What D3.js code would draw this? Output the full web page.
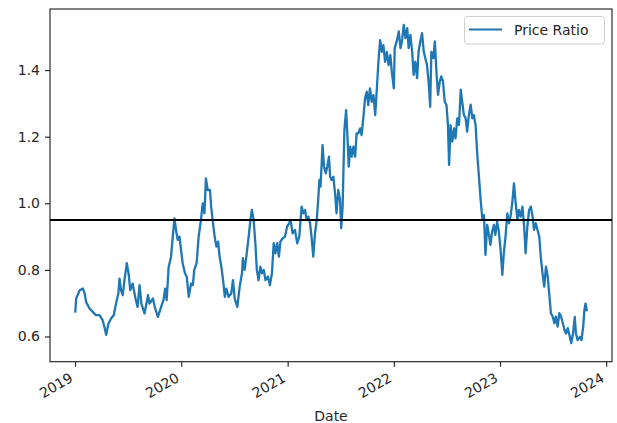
<!DOCTYPE html>
<html>
<head>
<meta charset="utf-8">
<script src="https://cdn.jsdelivr.net/npm/d3@7"></script>
<style>
  html, body { margin: 0; padding: 0; background: #fff; }
  svg { display: block; font-family: "DejaVu Sans", sans-serif; }
</style>
</head>
<body>
<svg id="chart" width="617" height="423"></svg>
<script>
// Observation dates of the price ratio series
const dates = [
  "2019-01-02","2019-01-05","2019-01-17","2019-01-28","2019-02-03","2019-02-08","2019-02-20","2019-03-03",
  "2019-03-14","2019-03-26","2019-04-06","2019-04-12","2019-04-18","2019-04-26","2019-05-05","2019-05-14",
  "2019-05-22","2019-05-30","2019-06-03","2019-06-08","2019-06-14","2019-06-20","2019-06-28","2019-07-04",
  "2019-07-10","2019-07-18","2019-07-28","2019-08-04","2019-08-11","2019-08-17","2019-08-28","2019-09-09",
  "2019-09-14","2019-09-26","2019-10-02","2019-10-13","2019-10-24","2019-11-01","2019-11-07","2019-11-12",
  "2019-11-19","2019-11-27","2019-12-03","2019-12-09","2019-12-15","2019-12-20","2019-12-26",
  "2020-01-02","2020-01-06","2020-01-14","2020-01-20","2020-01-27","2020-02-04","2020-02-10","2020-02-15",
  "2020-02-23","2020-03-01","2020-03-09","2020-03-15","2020-03-21","2020-03-26","2020-04-01","2020-04-09",
  "2020-04-13","2020-04-18","2020-04-25","2020-05-01","2020-05-07","2020-05-12","2020-05-18","2020-05-24",
  "2020-05-30","2020-06-04","2020-06-12","2020-06-21","2020-06-27","2020-07-03","2020-07-12","2020-07-20",
  "2020-07-28","2020-07-31","2020-08-06","2020-08-12","2020-08-20","2020-08-26","2020-08-31","2020-09-06",
  "2020-09-12","2020-09-17","2020-09-23","2020-09-29","2020-10-05","2020-10-11","2020-10-17","2020-10-25",
  "2020-11-01","2020-11-08","2020-11-14","2020-11-20","2020-11-26","2020-12-02","2020-12-07","2020-12-15",
  "2020-12-23","2020-12-30",
  "2021-01-06","2021-01-11","2021-01-18","2021-01-26","2021-02-03","2021-02-10","2021-02-18","2021-02-24",
  "2021-03-02","2021-03-07","2021-03-13","2021-03-19","2021-03-24","2021-03-30","2021-04-05","2021-04-11",
  "2021-04-16","2021-04-20","2021-04-24","2021-05-01","2021-05-06","2021-05-12","2021-05-17","2021-05-23",
  "2021-05-27","2021-06-01","2021-06-07","2021-06-13","2021-06-18","2021-06-24","2021-06-30","2021-07-04",
  "2021-07-09","2021-07-15","2021-07-21","2021-07-25","2021-07-30","2021-08-04","2021-08-09","2021-08-15",
  "2021-08-21","2021-08-26","2021-09-01","2021-09-07","2021-09-12","2021-09-18","2021-09-24","2021-09-30",
  "2021-10-05","2021-10-11","2021-10-17","2021-10-23","2021-10-29","2021-11-04","2021-11-09","2021-11-15",
  "2021-11-21","2021-11-26","2021-12-02","2021-12-08","2021-12-14","2021-12-20","2021-12-25",
  "2022-01-01","2022-01-04","2022-01-12","2022-01-18","2022-01-24","2022-01-29","2022-02-04","2022-02-10",
  "2022-02-16","2022-02-21","2022-02-27","2022-03-05","2022-03-10","2022-03-16","2022-03-22","2022-03-27",
  "2022-04-02","2022-04-08","2022-04-14","2022-04-19","2022-04-25","2022-05-01","2022-05-06","2022-05-10",
  "2022-05-17","2022-05-22","2022-05-28","2022-06-02","2022-06-08","2022-06-13","2022-06-19","2022-06-25",
  "2022-07-01","2022-07-06","2022-07-10","2022-07-15","2022-07-21","2022-07-27","2022-08-01","2022-08-07",
  "2022-08-13","2022-08-19","2022-08-24","2022-08-30","2022-09-05","2022-09-10","2022-09-16","2022-09-22",
  "2022-09-28","2022-10-03","2022-10-09","2022-10-15","2022-10-21","2022-10-26","2022-11-01","2022-11-07",
  "2022-11-12","2022-11-18","2022-11-24","2022-11-29","2022-12-05","2022-12-11","2022-12-16","2022-12-22",
  "2022-12-28",
  "2023-01-03","2023-01-09","2023-01-14","2023-01-20","2023-01-26","2023-02-01","2023-02-06","2023-02-12",
  "2023-02-18","2023-02-24","2023-03-02","2023-03-07","2023-03-13","2023-03-19","2023-03-25","2023-03-30",
  "2023-04-05","2023-04-11","2023-04-17","2023-04-23","2023-04-28","2023-05-04","2023-05-10","2023-05-16",
  "2023-05-21","2023-05-27","2023-06-02","2023-06-08","2023-06-14","2023-06-20","2023-06-25","2023-07-01",
  "2023-07-07","2023-07-12","2023-07-18","2023-07-24","2023-07-30","2023-08-05","2023-08-11","2023-08-16",
  "2023-08-22","2023-08-28","2023-09-03","2023-09-09","2023-09-15","2023-09-19","2023-09-25","2023-10-03",
  "2023-10-08","2023-10-14","2023-10-18","2023-10-22","2023-10-26"
];

// Price ratio at each date
const ratio = [
  0.675,0.714,0.739,0.744,0.730,0.704,0.684,0.674,
  0.664,0.664,0.649,0.629,0.605,0.639,0.654,0.664,
  0.699,0.729,0.774,0.739,0.724,0.769,0.820,0.790,
  0.739,0.759,0.714,0.689,0.754,0.699,0.669,0.724,
  0.699,0.714,0.689,0.659,0.689,0.709,0.744,0.709,
  0.809,0.839,0.900,0.955,0.915,0.890,0.900,
  0.850,0.820,0.790,0.780,0.719,0.759,0.754,0.800,
  0.820,0.900,0.950,1.000,0.970,1.075,1.040,1.040,
  0.990,0.950,0.900,0.870,0.885,0.840,0.810,0.769,
  0.719,0.744,0.719,0.729,0.769,0.714,0.689,0.749,
  0.790,0.835,0.800,0.840,0.900,0.950,0.980,0.950,
  0.880,0.800,0.769,0.810,0.790,0.800,0.769,0.780,
  0.754,0.790,0.880,0.850,0.880,0.840,0.885,0.895,
  0.900,0.930,
  0.940,0.950,0.910,0.920,0.880,0.900,0.990,0.970,
  0.980,0.950,0.960,0.940,0.900,0.840,0.910,0.950,
  1.010,1.070,1.050,1.175,1.110,1.090,1.110,1.140,
  1.080,1.070,1.080,1.030,0.970,1.040,1.010,0.925,
  0.990,1.220,1.280,1.210,1.110,1.170,1.140,1.170,
  1.140,1.210,1.210,1.225,1.205,1.255,1.315,1.335,
  1.295,1.345,1.305,1.325,1.265,1.350,1.425,1.490,
  1.455,1.475,1.425,1.455,1.415,1.445,1.395,
  1.345,1.466,1.490,1.516,1.466,1.486,1.536,1.496,
  1.526,1.466,1.506,1.455,1.386,1.425,1.376,1.455,
  1.486,1.511,1.455,1.436,1.415,1.360,1.290,1.455,
  1.436,1.486,1.386,1.326,1.366,1.381,1.366,1.305,
  1.295,1.235,1.115,1.235,1.185,1.225,1.195,1.255,
  1.235,1.341,1.305,1.265,1.255,1.215,1.265,1.296,
  1.255,1.265,1.235,1.145,1.075,1.015,0.955,0.965,
  0.845,0.935,0.905,0.875,0.915,0.935,0.905,0.945,
  0.915,
  0.860,0.785,0.850,0.900,0.970,0.940,0.960,1.000,
  1.060,1.000,0.950,0.980,0.960,0.990,0.930,0.850,
  0.930,0.980,0.990,0.960,0.920,0.940,0.920,0.900,
  0.840,0.790,0.750,0.810,0.780,0.720,0.670,0.660,
  0.640,0.660,0.630,0.670,0.660,0.640,0.619,0.609,
  0.625,0.604,0.580,0.609,0.659,0.609,0.589,0.599,
  0.589,0.629,0.679,0.699,0.679
];

const seriesName = "Price Ratio";
const threshold = 0.95;
const yTickValues = [0.6, 0.8, 1.0, 1.2, 1.4];
const xTickYears = ["2019", "2020", "2021", "2022", "2023", "2024"];
const xLabel = "Date";

const parse = d3.utcParse("%Y-%m-%d");
const data = dates.map((d, i) => ({ date: parse(d), value: ratio[i] }));

const svg = d3.select("#chart");
const plot = { left: 50, top: 9, right: 612, bottom: 361.7 };

const x = d3.scaleUtc()
  .domain([Date.UTC(2018, 9, 7), Date.UTC(2024, 0, 21)])
  .range([plot.left, plot.right]);
const y = d3.scaleLinear()
  .domain([0.5243, 1.5835])
  .range([plot.bottom, plot.top]);

const textColor = "#262626";
const fontSize = 14;

// Series line
const line = d3.line().x(d => x(d.date)).y(d => y(d.value));
svg.append("path")
  .datum(data)
  .attr("fill", "none")
  .attr("stroke", "#1f77b4")
  .attr("stroke-width", 2.3)
  .attr("stroke-linejoin", "round")
  .attr("stroke-linecap", "square")
  .attr("d", line);

// Horizontal reference level
svg.append("line")
  .attr("x1", plot.left).attr("x2", plot.right)
  .attr("y1", y(threshold)).attr("y2", y(threshold))
  .attr("stroke", "#000")
  .attr("stroke-width", 2);

// Axes frame
svg.append("rect")
  .attr("x", plot.left).attr("y", plot.top)
  .attr("width", plot.right - plot.left)
  .attr("height", plot.bottom - plot.top)
  .attr("fill", "none")
  .attr("stroke", "#1a1a1a")
  .attr("stroke-width", 1.1);

// Y axis
const yAxis = d3.axisLeft(y)
  .tickValues(yTickValues)
  .tickFormat(d3.format(".1f"))
  .tickSize(5)
  .tickPadding(5);
const gy = svg.append("g")
  .attr("transform", `translate(${plot.left},0)`)
  .call(yAxis);
gy.select(".domain").remove();
gy.selectAll(".tick line").attr("stroke", "#1a1a1a").attr("stroke-width", 1.1);
gy.selectAll(".tick text")
  .attr("fill", textColor)
  .style("font-size", fontSize + "px")
  .style("font-family", "DejaVu Sans");

// X axis with rotated year labels
const yearDates = xTickYears.map(t => d3.utcParse("%Y")(t));
const xAxis = d3.axisBottom(x)
  .tickValues(yearDates)
  .tickFormat(d3.utcFormat("%Y"))
  .tickSize(5)
  .tickPadding(0);
const gx = svg.append("g")
  .attr("transform", `translate(0,${plot.bottom})`)
  .call(xAxis);
gx.select(".domain").remove();
gx.selectAll(".tick line").attr("stroke", "#1a1a1a").attr("stroke-width", 1.1);
gx.selectAll(".tick text")
  .attr("fill", textColor)
  .style("font-size", fontSize + "px")
  .style("font-family", "DejaVu Sans")
  .attr("text-anchor", "end")
  .attr("dy", null)
  .attr("y", null)
  .attr("transform", "translate(-1.5,19) rotate(-30)");

// X axis title
svg.append("text")
  .attr("x", (plot.left + plot.right) / 2)
  .attr("y", 421)
  .attr("text-anchor", "middle")
  .attr("fill", textColor)
  .style("font-size", fontSize + "px")
  .text(xLabel);

// Legend
const legend = svg.append("g");
legend.append("rect")
  .attr("x", 464.5).attr("y", 16.5)
  .attr("width", 140).attr("height", 27.5)
  .attr("rx", 3).attr("ry", 3)
  .attr("fill", "#fff").attr("fill-opacity", 0.8)
  .attr("stroke", "#d0d0d0").attr("stroke-width", 1);
legend.append("line")
  .attr("x1", 469).attr("x2", 502)
  .attr("y1", 29.5).attr("y2", 29.5)
  .attr("stroke", "#1f77b4").attr("stroke-width", 2);
legend.append("text")
  .attr("x", 514).attr("y", 35)
  .attr("fill", textColor)
  .style("font-size", fontSize + "px")
  .text(seriesName);
</script>
</body>
</html>
